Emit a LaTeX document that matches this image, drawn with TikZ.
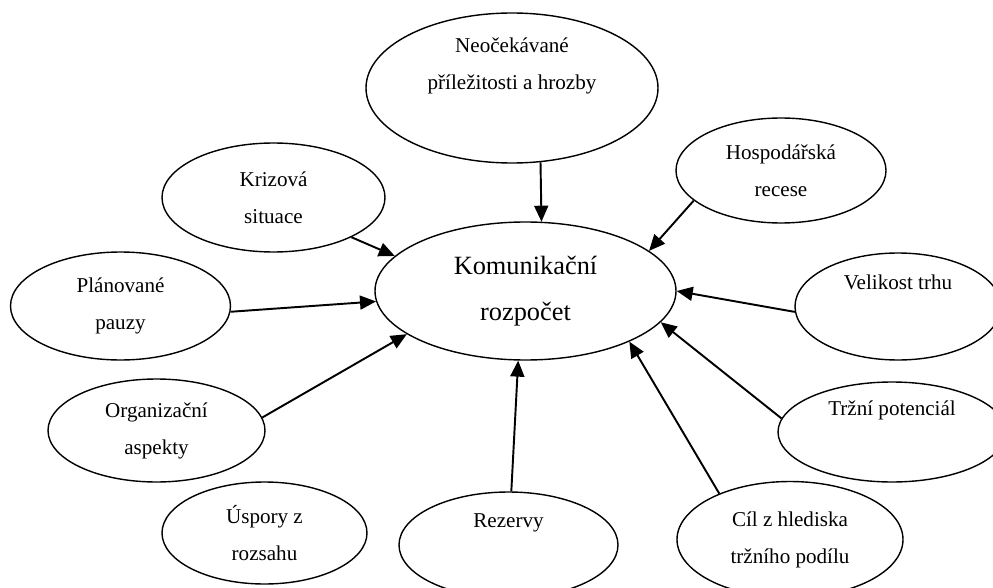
\documentclass[tikz,border=0pt]{standalone}
\usepackage{fontspec}
\setmainfont{Liberation Serif}
\usetikzlibrary{arrows.meta,shapes.geometric}

\begin{document}
\begin{tikzpicture}[
        every node/.style={ellipse,draw,line width=0.8pt,inner sep=0pt,align=center,
        font=\fontsize{12}{21}\selectfont},
        influence/.style={line width=1.1pt,-{Triangle[length=0.32cm,width=0.28cm]}}
        ]
    \useasboundingbox (0,0) rectangle (19.86,11.74);
    % the budget in the middle
        \node[minimum width=6.02cm,minimum height=2.76cm,font=\fontsize{15}{26}\selectfont] (budget) at (10.51,5.92) {Komunikační\\rozpočet};
    % factors round it
        \node[minimum width=5.84cm,minimum height=3.00cm] (threats) at (10.24,9.98) {Neočekávané\\příležitosti a hrozby\\\strut};
        \node[minimum width=4.46cm,minimum height=2.18cm] (crisis) at (5.47,7.79) {Krizová\\situace};
        \node[minimum width=4.40cm,minimum height=2.16cm] (pauses) at (2.41,5.62) {Plánované\\pauzy};
        \node[minimum width=4.34cm,minimum height=2.06cm] (organisation) at (3.13,3.13) {Organizační\\aspekty};
        \node[minimum width=4.10cm,minimum height=2.04cm] (scale) at (5.29,1.08) {Úspory z\\rozsahu};
        \node[minimum width=4.38cm,minimum height=2.12cm] (reserves) at (10.17,0.84) {Rezervy\\\strut};
        \node[minimum width=4.52cm,minimum height=2.32cm] (goal) at (15.80,0.95) {Cíl z hlediska\\tržního podílu};
        \node[minimum width=4.56cm,minimum height=2.00cm] (potential) at (17.84,3.10) {Tržní potenciál\\\strut};
        \node[minimum width=4.12cm,minimum height=2.14cm] (market) at (17.96,5.61) {Velikost trhu\\\strut};
        \node[minimum width=4.20cm,minimum height=2.10cm] (recession) at (15.62,8.33) {Hospodářská\\recese};
    %
        \draw[influence] (threats.291) -- (budget.77);
        \draw[influence] (recession.199) -- (budget.18);
        \draw[influence] (crisis.333) -- (budget.165);
        \draw[influence] (pauses.357) -- (budget.184);
        \draw[influence] (organisation.7) -- (budget.200);
        \draw[influence] (reserves.87) -- (budget.264);
        \draw[influence] (goal.147) -- (budget.334);
        \draw[influence] (potential.173) -- (budget.347);
        \draw[influence] (market.183) -- (budget.0);
    %
    \end{tikzpicture}
\end{document}
